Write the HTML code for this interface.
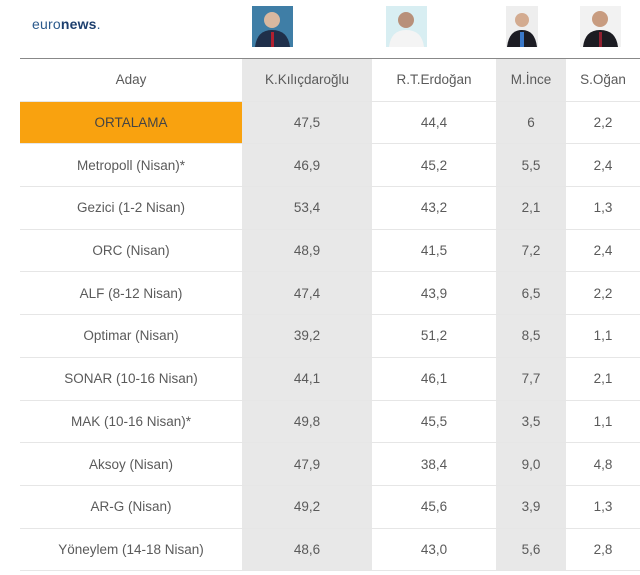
<!DOCTYPE html>
<html><head><meta charset="utf-8"><style>
body{margin:0;width:640px;height:575px;background:#fff;font-family:"Liberation Sans","DejaVu Sans",sans-serif;overflow:hidden;position:relative}
.logo{position:absolute;left:32px;top:16px;font-size:14px;color:#2b5a8c;letter-spacing:0.2px}
.logo b{color:#1d3f6e}
.ph{position:absolute;top:6px;height:41px}
table{position:absolute;left:20px;top:58px;border-collapse:collapse;border-top:1.5px solid #888}
td{height:41.7px;border-bottom:1px solid #e6e6e6;text-align:center;font-size:13.5px;color:#5a5a5a;padding:0}
.g{background:#e8e8e8}
.c0{width:222px}.c1{width:130px}.c2{width:124px}.c3{width:70px}.c4{width:74px}
.or{background:#f9a20f;color:#444}
</style></head><body>
<div class="logo">euro<b>news</b>.</div>
<svg class="ph" style="left:252px" width="41" height="41"><rect width="41" height="41" fill="#3f7ea6"/><circle cx="20" cy="14" r="8" fill="#d9b8a0"/><path d="M3 41 Q5 24 20 24 Q36 24 38 41Z" fill="#1f2f4a"/><rect x="19" y="26" width="3" height="15" fill="#b02030"/></svg>
<svg class="ph" style="left:386px" width="41" height="41"><rect width="41" height="41" fill="#d8eef2"/><circle cx="20" cy="14" r="8" fill="#b8907a"/><path d="M3 41 Q5 24 20 24 Q36 24 38 41Z" fill="#f4f4f4"/></svg>
<svg class="ph" style="left:506px" width="32" height="41"><rect width="32" height="41" fill="#eeeeee"/><circle cx="16" cy="14" r="7" fill="#d3ab90"/><path d="M1 41 Q3 24 16 24 Q29 24 31 41Z" fill="#1c1c24"/><rect x="14" y="26" width="4" height="15" fill="#3a78c8"/></svg>
<svg class="ph" style="left:580px" width="41" height="41"><rect width="41" height="41" fill="#f2f2f2"/><circle cx="20" cy="13" r="8" fill="#c89c80"/><path d="M3 41 Q5 24 20 24 Q36 24 38 41Z" fill="#1c1c22"/><rect x="19" y="26" width="3" height="15" fill="#902030"/></svg>
<table>
<tr><td class="c0">Aday</td><td class="c1 g">K.Kılıçdaroğlu</td><td class="c2">R.T.Erdoğan</td><td class="c3 g">M.İnce</td><td class="c4">S.Oğan</td></tr>
<tr><td class="or">ORTALAMA</td><td class="g">47,5</td><td>44,4</td><td class="g">6</td><td>2,2</td></tr>
<tr><td>Metropoll (Nisan)*</td><td class="g">46,9</td><td>45,2</td><td class="g">5,5</td><td>2,4</td></tr>
<tr><td>Gezici (1-2 Nisan)</td><td class="g">53,4</td><td>43,2</td><td class="g">2,1</td><td>1,3</td></tr>
<tr><td>ORC (Nisan)</td><td class="g">48,9</td><td>41,5</td><td class="g">7,2</td><td>2,4</td></tr>
<tr><td>ALF (8-12 Nisan)</td><td class="g">47,4</td><td>43,9</td><td class="g">6,5</td><td>2,2</td></tr>
<tr><td>Optimar (Nisan)</td><td class="g">39,2</td><td>51,2</td><td class="g">8,5</td><td>1,1</td></tr>
<tr><td>SONAR (10-16 Nisan)</td><td class="g">44,1</td><td>46,1</td><td class="g">7,7</td><td>2,1</td></tr>
<tr><td>MAK (10-16 Nisan)*</td><td class="g">49,8</td><td>45,5</td><td class="g">3,5</td><td>1,1</td></tr>
<tr><td>Aksoy (Nisan)</td><td class="g">47,9</td><td>38,4</td><td class="g">9,0</td><td>4,8</td></tr>
<tr><td>AR-G (Nisan)</td><td class="g">49,2</td><td>45,6</td><td class="g">3,9</td><td>1,3</td></tr>
<tr><td>Yöneylem (14-18 Nisan)</td><td class="g">48,6</td><td>43,0</td><td class="g">5,6</td><td>2,8</td></tr>
</table>
</body></html>
